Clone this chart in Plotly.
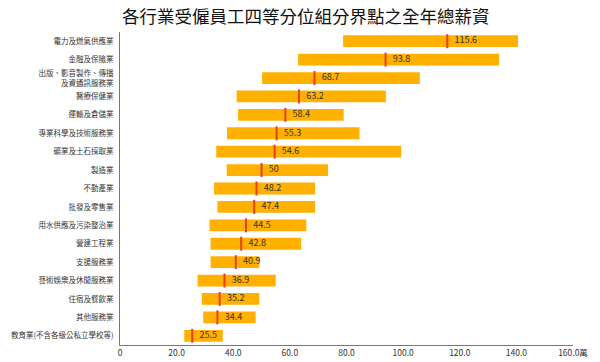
import plotly.graph_objects as go

categories = [
    "電力及燃氣供應業", "金融及保險業", "出版、影音製作、傳播<br>及資通訊服務業", "醫療保健業",
    "運輸及倉儲業", "專業科學及技術服務業", "礦業及土石採取業", "製造業", "不動產業",
    "批發及零售業", "用水供應及污染整治業", "營建工程業", "支援服務業",
    "藝術娛樂及休閒服務業", "住宿及餐飲業", "其他服務業", "教育業(不含各級公私立學校等)",
]
q1 = [78.8, 62.9, 50.2, 41.2, 41.7, 37.8, 34.0, 37.7, 33.2, 34.4, 31.6, 32.0, 32.0, 27.4, 28.9, 29.4, 22.7]
median = [115.6, 93.8, 68.7, 63.2, 58.4, 55.3, 54.6, 50, 48.2, 47.4, 44.5, 42.8, 40.9, 36.9, 35.2, 34.4, 25.5]
q3 = [140.6, 133.9, 105.9, 93.9, 79.0, 84.6, 99.3, 73.5, 68.9, 68.9, 65.8, 64.0, 49.2, 55.0, 49.2, 47.9, 36.3]
tick_vals = [0, 20, 40, 60, 80, 100, 120, 140, 160]
tick_text = ["0", "20.0", "40.0", "60.0", "80.0", "100.0", "120.0", "140.0", "160.0萬"]

FONT = "Noto Sans CJK TC"

fig = go.Figure()
fig.add_trace(go.Bar(
    y=categories, x=[b - a for a, b in zip(q1, q3)], base=q1, orientation="h",
    marker=dict(color="#FFB000", line=dict(width=0)), width=0.64, hoverinfo="skip",
))
fig.add_trace(go.Scatter(
    y=categories, x=median, mode="markers+text",
    marker=dict(symbol="line-ns", size=10, line=dict(color="#E5401A", width=2)),
    text=[str(m) for m in median], textposition="middle right",
    textfont=dict(size=9, color="#333333", family=FONT),
))

fig.add_annotation(
    text="各行業受僱員工四等分位組分界點之全年總薪資", xref="paper", yref="paper",
    x=0.41, y=1, xanchor="center", yanchor="bottom", yshift=2, showarrow=False,
    font=dict(size=17.5, color="#111111", family=FONT),
)
fig.update_layout(
    width=600, height=362,
    margin=dict(l=120, r=27, t=32, b=17),
    paper_bgcolor="white", plot_bgcolor="white",
    showlegend=False,
    font=dict(family=FONT, size=9, color="#333333"),
    xaxis=dict(range=[0, 160], tickvals=tick_vals, ticktext=tick_text, showgrid=False,
               zeroline=False, showline=True, linecolor="#777777", linewidth=1,
               ticks="", tickfont=dict(size=8.5, color="#333333"), automargin=False),
    yaxis=dict(range=[16.5, -0.5], autorange=False, showgrid=False, zeroline=False,
               showline=True, linecolor="#777777", linewidth=1, ticks="", ticklabelstandoff=4,
               tickfont=dict(size=7.5, color="#333333"), automargin=False),
)
fig.write_html("out.html", config={"displayModeBar": False},
               post_script="document.body.style.margin='0';")
